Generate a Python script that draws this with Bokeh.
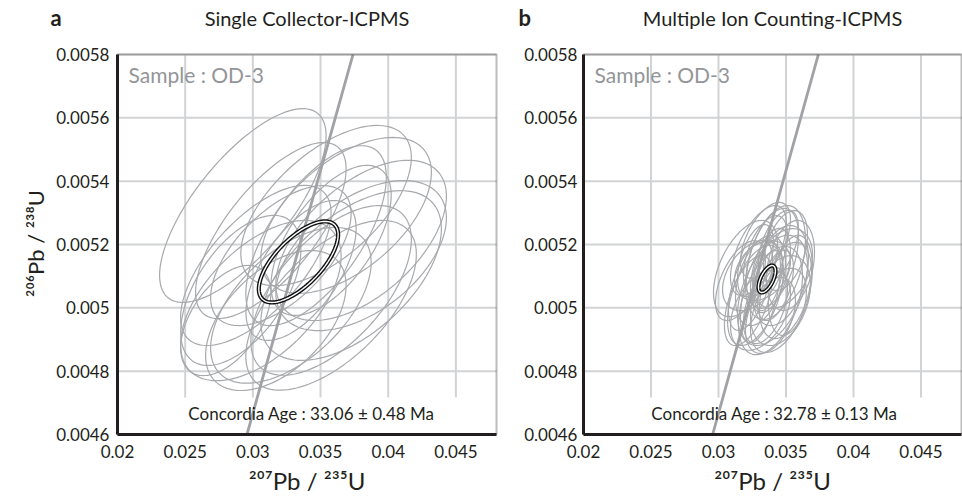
import numpy as np
from bokeh.plotting import figure
from bokeh.layouts import row
from bokeh.models import (FixedTicker, CustomJSTickFormatter, Label, BoxAnnotation, Range1d,
                          LinearAxis)
from bokeh.embed import file_html
from bokeh.resources import INLINE

FONT = "Lato"
INK = "#231f20"
GRAY_TXT = "#939598"
ELL = "#a7a9ac"
GRID = "#d1d3d4"
CONC = "#a0a2a5"

# ---------------- data ----------------
x_ticks = [0.02, 0.025, 0.03, 0.035, 0.04, 0.045]
y_ticks = [0.0046, 0.0048, 0.005, 0.0052, 0.0054, 0.0056, 0.0058]
X_MIN, X_MAX = 0.02, 0.048
Y_MIN, Y_MAX = 0.0046, 0.0058

# concordia curve (ages in Ma, from the bottom to the top edge of the plot box)
conc_age_ma = [29.585, 30, 31, 32, 33, 34, 35, 36, 37, 37.281]
conc_x = [0.0295656, 0.0299863, 0.0310012, 0.0320171, 0.0330340,
          0.0340518, 0.0350707, 0.0360906, 0.0371115, 0.0373989]
conc_y = [0.0046000, 0.0046646, 0.0048205, 0.0049763, 0.0051323,
          0.0052882, 0.0054442, 0.0056001, 0.0057561, 0.0058000]

# panel a : Single Collector-ICPMS analyses (centre, 2s errors, rho)
sc_x = [0.02926, 0.03133, 0.03022, 0.03541, 0.03689, 0.0380, 0.0380, 0.03578, 0.03059,
        0.03281, 0.03578, 0.03578, 0.02911, 0.03356, 0.03207, 0.03726, 0.0317, 0.03467, 0.0280]
sc_ex = [0.00615, 0.00556, 0.00556, 0.0063, 0.0063, 0.0063, 0.0063, 0.00444, 0.00593,
         0.00593, 0.0063, 0.00593, 0.00444, 0.00407, 0.00519, 0.00667, 0.00519, 0.00519, 0.00333]
sc_y = [0.005323, 0.005244, 0.005134, 0.005323, 0.005292, 0.005213, 0.005165, 0.005213, 0.005023,
        0.005008, 0.005008, 0.005055, 0.005055, 0.005118, 0.005165, 0.005102, 0.00496, 0.005228, 0.00496]
sc_ey = [0.000306, 0.000278, 0.000253, 0.000253, 0.000246, 0.000253, 0.000237, 0.000237, 0.000253,
         0.000246, 0.000268, 0.000268, 0.000237, 0.000221, 0.000221, 0.000268, 0.000221, 0.000284, 0.000174]
sc_rho = [0.72, 0.70, 0.65, 0.60, 0.55, 0.55, 0.50, 0.60, 0.55,
          0.55, 0.60, 0.60, 0.55, 0.60, 0.60, 0.55, 0.50, 0.65, 0.50]
sc_mean = dict(x=0.03337, ex=0.00293, y=0.005145, ey=0.000128, rho=0.67)

# panel b : Multiple Ion Counting-ICPMS analyses
mic_x = [0.03422, 0.0320, 0.03385, 0.03311, 0.03459, 0.03348, 0.03274, 0.03496, 0.03385,
         0.03237, 0.03533, 0.03311, 0.03422, 0.03348, 0.03459, 0.03274, 0.03385, 0.03496,
         0.03222, 0.0340, 0.03326, 0.03444, 0.03296, 0.03533, 0.0337, 0.03252,
         0.0340, 0.03311, 0.03474, 0.03348, 0.03163, 0.03444]
mic_ex = [0.00222, 0.00237, 0.00237, 0.00185, 0.00207, 0.00163, 0.00207, 0.00193, 0.00148,
          0.00163, 0.00178, 0.00222, 0.00133, 0.00185, 0.00222, 0.00133, 0.00185, 0.00163,
          0.00178, 0.00259, 0.00207, 0.00207, 0.00207, 0.00163, 0.00104, 0.00222,
          0.00193, 0.00148, 0.00222, 0.00163, 0.00185, 0.00148]
mic_y = [0.005143, 0.005124, 0.005023, 0.005086, 0.005102, 0.005165, 0.005039, 0.005055, 0.005118,
         0.005071, 0.005134, 0.004992, 0.005071, 0.005213, 0.005023, 0.005149, 0.004976, 0.005181,
         0.005023, 0.005055, 0.005118, 0.004992, 0.005181, 0.005071, 0.005086, 0.005102,
         0.005156, 0.005048, 0.005124, 0.005007, 0.005086, 0.005197]
mic_ey = [0.00018, 0.000152, 0.000171, 0.000142, 0.000158, 0.000126, 0.000158, 0.000152, 0.000133,
          0.000142, 0.000142, 0.000126, 0.000111, 0.00012, 0.000142, 0.000114, 0.00012, 0.000126,
          0.000142, 0.000174, 0.0000947, 0.000133, 0.000142, 0.000158, 0.0000947, 0.000111,
          0.000158, 0.000158, 0.000126, 0.00012, 0.000126, 0.000111]
mic_rho = [0.40, 0.50, 0.45, 0.40, 0.35, 0.50, 0.50, 0.40, 0.45,
           0.55, 0.30, 0.40, 0.50, 0.55, 0.35, 0.50, 0.40, 0.40,
           0.55, 0.45, 0.30, 0.45, 0.60, 0.35, 0.50, 0.40,
           0.45, 0.50, 0.35, 0.45, 0.55, 0.50]
mic_mean = dict(x=0.03359, ex=0.00063, y=0.005091, ey=0.0000426, rho=0.6)

X_LABEL = "\u00b2\u2070\u2077Pb / \u00b2\u00b3\u2075U"
Y_LABEL = "\u00b2\u2070\u2076Pb / \u00b2\u00b3\u2078U"

panels = [
    dict(letter="a", title="Single Collector-ICPMS", age="Concordia Age : 33.06 \u00b1 0.48 Ma",
         x=sc_x, ex=sc_ex, y=sc_y, ey=sc_ey, rho=sc_rho, mean=sc_mean,
         W=501, L=117, R=496, letter_x=50, age_x=311, ylabel=True),
    dict(letter="b", title="Multiple Ion Counting-ICPMS", age="Concordia Age : 32.78 \u00b1 0.13 Ma",
         x=mic_x, ex=mic_ex, y=mic_y, ey=mic_ey, rho=mic_rho, mean=mic_mean,
         W=461, L=82, R=460, letter_x=17, age_x=273, ylabel=False),
]

H, TOP, BOT = 497, 54, 434          # canvas height, plot-box top/bottom (pixels)
BAND_TOP = 0.004717                  # white band behind the age text

T = np.linspace(0, 2 * np.pi, 121)


def ellipse_path(cx, ex, cy, ey, rho):
    xs = cx + ex * np.cos(T)
    ys = cy + ey * (rho * np.cos(T) + np.sqrt(1 - rho ** 2) * np.sin(T))
    return list(xs), list(ys)


def make_panel(d):
    W, L, R = d["W"], d["L"], d["R"]
    sx = (R - L) / (X_MAX - X_MIN)
    sy = (BOT - TOP) / (Y_MAX - Y_MIN)
    xr = Range1d(X_MIN - L / sx, X_MAX + (W - R) / sx)
    yr = Range1d(Y_MIN - (H - BOT) / sy, Y_MAX + TOP / sy)
    p = figure(width=W, height=H, output_backend="svg", toolbar_location=None,
               x_range=xr, y_range=yr, x_axis_type=None, y_axis_type=None,
               min_border=0, min_border_left=0, min_border_right=0,
               min_border_top=0, min_border_bottom=0,
               background_fill_color="white", border_fill_color="white")
    p.outline_line_color = None

    # grid
    p.segment(x0=x_ticks[1:], y0=BAND_TOP, x1=x_ticks[1:], y1=Y_MAX, line_color=GRID, line_width=2)
    p.segment(x0=X_MIN, y0=y_ticks[1:], x1=X_MAX, y1=y_ticks[1:], line_color=GRID, line_width=2)

    # axes pinned to the plot box
    xa = LinearAxis(fixed_location=Y_MIN, bounds=(X_MIN, X_MAX))
    ya = LinearAxis(fixed_location=X_MIN, bounds=(Y_MIN, Y_MAX))
    for ax, ticks in ((xa, x_ticks), (ya, y_ticks)):
        ax.ticker = FixedTicker(ticks=ticks)
        ax.formatter = CustomJSTickFormatter(code="return tick.toString();")
        ax.major_tick_line_color = None
        ax.minor_tick_line_color = None
        ax.major_tick_out = 0
        ax.major_tick_in = 0
        ax.axis_line_color = INK
        ax.axis_line_width = 3
        ax.major_label_text_font = FONT
        ax.major_label_text_font_size = "17px"
        ax.major_label_text_color = INK
    xa.major_label_standoff = 10
    ya.major_label_standoff = 8 if d["ylabel"] else 6
    p.add_layout(xa, "below")
    p.add_layout(ya, "left")

    # plot box outline
    p.add_layout(BoxAnnotation(left=X_MIN, right=X_MAX, bottom=Y_MIN, top=Y_MAX,
                               fill_alpha=0, line_color=INK, line_width=2))

    xs, ys = [], []
    for cx, ex, cy, ey, r in zip(d["x"], d["ex"], d["y"], d["ey"], d["rho"]):
        a, b = ellipse_path(cx, ex, cy, ey, r)
        xs.append(a)
        ys.append(b)
    p.multi_line(xs, ys, line_color=ELL, line_width=1.2)

    p.line(conc_x, conc_y, line_color=CONC, line_width=2.8)

    m = d["mean"]
    mx, my = ellipse_path(m["x"], m["ex"], m["y"], m["ey"], m["rho"])
    p.line(mx, my, line_color="#111111", line_width=4.2)
    p.line(mx, my, line_color="white", line_width=1.4)

    cxp = (L + R) / 2
    # texts: screen units measured from the canvas' lower-left corner
    p.add_layout(Label(x=d["letter_x"], y=H - 30, x_units="screen", y_units="screen",
                       text=d["letter"], text_font=FONT, text_font_style="bold",
                       text_font_size="22px", text_color=INK))
    p.add_layout(Label(x=cxp, y=H - 29, x_units="screen", y_units="screen", text=d["title"],
                       text_font=FONT, text_font_size="20px", text_color=INK, text_align="center"))
    p.add_layout(Label(x=L + 11, y=H - 86, x_units="screen", y_units="screen",
                       text="Sample : OD-3", text_font=FONT, text_font_size="21px",
                       text_color=GRAY_TXT))
    p.add_layout(Label(x=d["age_x"], y=H - 423, x_units="screen", y_units="screen",
                       text=d["age"], text_font=FONT, text_font_size="17px", text_color=INK,
                       text_align="center"))
    p.add_layout(Label(x=cxp, y=H - 494, x_units="screen", y_units="screen", text=X_LABEL,
                       text_font=FONT, text_font_size="24px", text_color=INK,
                       text_align="center"))
    if d["ylabel"]:
        p.add_layout(Label(x=35, y=H - 243, x_units="screen", y_units="screen", text=Y_LABEL,
                           angle=np.pi / 2, text_font=FONT, text_font_size="22px",
                           text_color=INK, text_align="center", text_baseline="middle"))
    return p


layout = row(make_panel(panels[0]), make_panel(panels[1]), spacing=0)

open("out.html", "w").write(file_html(layout, INLINE))
